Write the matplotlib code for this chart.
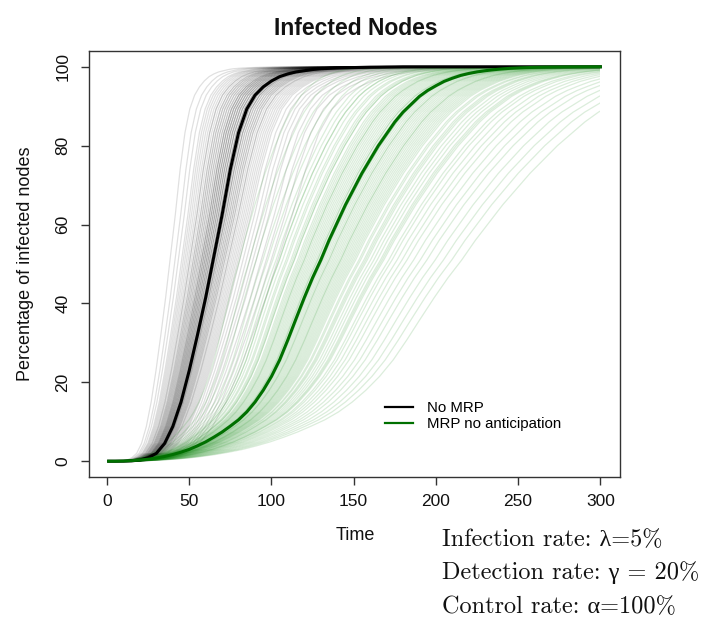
import numpy as np
import matplotlib
matplotlib.use("Agg")
import matplotlib.pyplot as plt
from matplotlib.lines import Line2D
from matplotlib.patches import Rectangle

plt.rcParams['font.family'] = ['Liberation Sans', 'DejaVu Sans']

# ---- data ----
time = [1] + list(range(5, 301, 5))

no_mrp_mean = [0, 0, 0.02, 0.1, 0.3, 0.9, 2.0, 4.5, 8.8, 15.0,
               23.0, 32.0, 41.5, 52, 62.5, 74.0, 83.3, 89.3, 92.8, 94.9,
               96.4, 97.5, 98.2, 98.7, 99.0, 99.3, 99.5, 99.6, 99.7, 99.75,
               99.8, 99.85, 99.9, 99.92, 99.95, 99.97, 100, 100, 100, 100,
               100, 100, 100, 100, 100, 100, 100, 100, 100, 100,
               100, 100, 100, 100, 100, 100, 100, 100, 100, 100, 100]

mrp_mean = [0, 0, 0.05, 0.15, 0.3, 0.5, 0.8, 1.2, 1.7, 2.3,
            3.0, 3.9, 4.9, 6.1, 7.4, 8.9, 10.5, 12.5, 15, 18,
            21.5, 25.7, 30.8, 36.2, 41.5, 46.5, 51, 56, 60.5, 65,
            69, 73, 76.5, 80, 83, 86, 88.5, 90.5, 92.5, 94,
            95.2, 96.3, 97.1, 97.8, 98.3, 98.7, 99.0, 99.25, 99.45, 99.6,
            99.7, 99.78, 99.85, 99.9, 99.93, 99.95, 99.97, 99.98, 99.99, 100, 100]

# time at which the mean curves reach ~50 %
no_mrp_mid = 64
mrp_mid = 129

# time at which individual simulation runs reach ~50 %
no_mrp_runs_mid = [38, 41, 43, 45, 46, 47, 48, 49, 50, 50,
                   51, 52, 52, 53, 53, 54, 54, 55, 55, 56,
                   56, 57, 57, 57, 58, 58, 58, 59, 59, 59,
                   60, 60, 60, 61, 61, 61, 62, 62, 62, 63,
                   63, 63, 64, 64, 64, 65, 65, 65, 66, 66,
                   66, 67, 67, 68, 68, 69, 69, 70, 70, 71,
                   71, 72, 73, 73, 74, 75, 76, 77, 78, 79,
                   80, 82, 84, 86, 88, 90, 93, 96, 99, 103]

mrp_runs_mid = [80, 86, 90, 94, 97, 100, 102, 104, 106, 108,
                109, 111, 112, 113, 115, 116, 117, 118, 119, 120,
                121, 122, 123, 124, 125, 126, 127, 128, 129, 130,
                130, 131, 132, 133, 134, 135, 136, 137, 138, 139,
                140, 141, 142, 143, 144, 145, 146, 147, 149, 150,
                152, 153, 155, 157, 159, 161, 163, 165, 167, 170,
                172, 175, 178, 181, 185, 189, 193, 198, 203, 208,
                214, 104, 113, 119, 127, 134, 141, 148, 156, 166]

series_labels = ['No MRP', 'MRP no anticipation']
x_ticks = [0, 50, 100, 150, 200, 250, 300]
y_ticks = [0, 20, 40, 60, 80, 100]
notes = ['Infection rate: λ=5%', 'Detection rate: γ = 20%', 'Control rate: α=100%']

# ---- figure ----
W, H = 708, 618
fig = plt.figure(figsize=(W / 100, H / 100), dpi=100)
L, R, T, B = 89, 620, 51, 477
ax = fig.add_axes([L / W, 1 - B / H, (R - L) / W, (B - T) / H])

t = np.array(time, dtype=float)
clip = Rectangle((-20, -10), 320, 130, transform=ax.transData)

def runs(mids, mean_mid, mean_vals, color, alpha):
    for m in mids:
        s = (m - 1) / (mean_mid - 1)
        ln, = ax.plot(1 + (t - 1) * s, mean_vals, color=color, lw=0.9,
                      alpha=alpha, solid_capstyle='butt', zorder=1)
        ln.set_clip_path(clip)

black = '#000000'
green = '#007000'
runs(no_mrp_runs_mid, no_mrp_mid, no_mrp_mean, '#000000', 0.12)
ax.plot(t, no_mrp_mean, color=black, lw=2.2, zorder=3)
runs(mrp_runs_mid, mrp_mid, mrp_mean, '#148a14', 0.15)
ax.plot(t, mrp_mean, color=green, lw=2.2, zorder=4)

ax.set_xlim(1 - 0.04 * 299, 300 + 0.04 * 299)
ax.set_ylim(-4, 104)

for sp in ax.spines.values():
    sp.set_color('#333333')
    sp.set_linewidth(1.0)

ax.set_xticks(x_ticks)
ax.set_xticklabels([str(v) for v in x_ticks])
ax.set_yticks(y_ticks)
ax.set_yticklabels([str(v) for v in y_ticks], rotation=90, va='center')
ax.tick_params(axis='x', length=5.5, width=1, color='#333333', pad=7,
               labelsize=12.5, labelcolor='#111111')
ax.tick_params(axis='y', length=5.5, width=1, color='#333333', pad=8,
               labelsize=12.5, labelcolor='#111111')

fig.text(356 / W, 1 - 35 / H, 'Infected Nodes', ha='center', va='baseline',
         fontsize=16.5, fontweight='bold', color='#111111')
fig.text(26 / W, 1 - 264 / H, 'Percentage of infected nodes', ha='center',
         va='center', rotation=90, fontsize=13, color='#111111')
fig.text(355 / W, 1 - 535 / H, 'Time', ha='center', va='center',
         fontsize=13, color='#111111')

handles = [Line2D([], [], color=black, lw=1.6), Line2D([], [], color=green, lw=1.6)]
ax.legend(handles, series_labels, loc='upper left', frameon=False,
          bbox_to_anchor=(385 / W, 1 - 401 / H), bbox_transform=fig.transFigure,
          borderpad=0, borderaxespad=0, handlelength=1.9, handletextpad=0.9,
          labelspacing=0.15, fontsize=10.8)

for i, note in enumerate(notes):
    fig.text(442 / W, 1 - [546, 579, 613][i] / H, note, ha='left', va='baseline',
             fontsize=17.5, family=['cmr10', 'Liberation Serif'], color='#111111')

fig.savefig('out.png', dpi=100)
